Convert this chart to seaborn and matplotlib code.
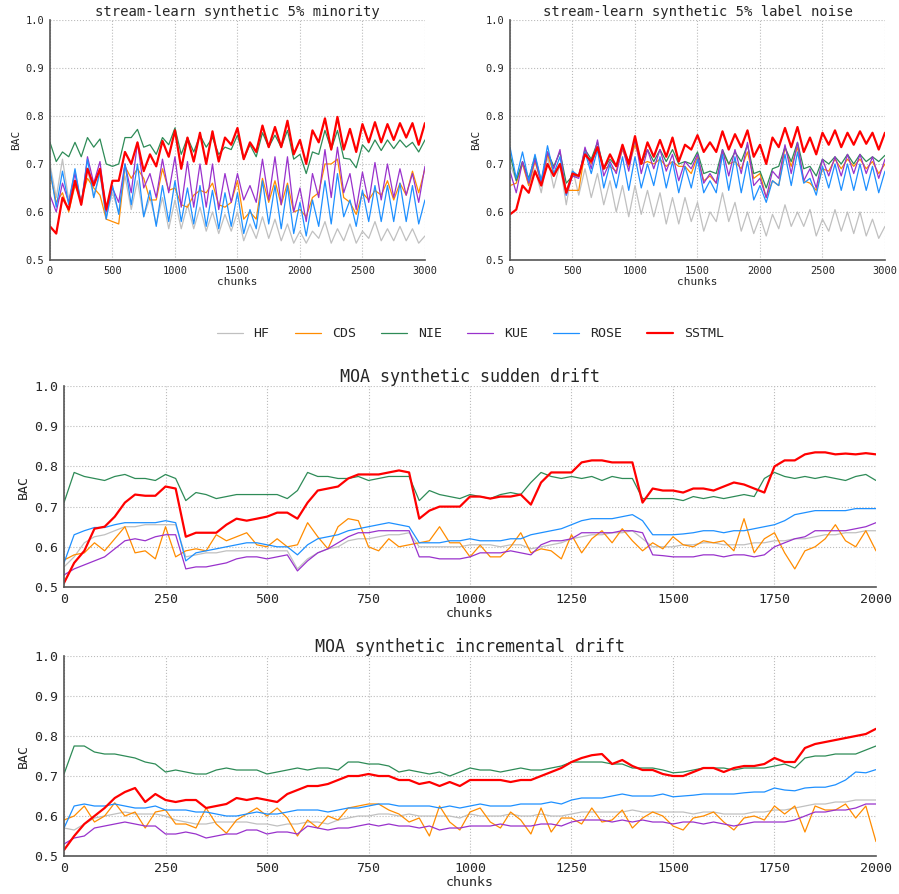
import numpy as np
import pandas as pd
import matplotlib
matplotlib.use('Agg')
import matplotlib.pyplot as plt
import seaborn as sns

methods = ['HF', 'CDS', 'NIE', 'KUE', 'ROSE', 'SSTML']
colors = {'HF': 'silver', 'CDS': 'darkorange', 'NIE': 'seagreen',
          'KUE': 'darkorchid', 'ROSE': 'dodgerblue', 'SSTML': 'red'}

# chunk positions for the samples
chunks_sl = np.arange(0, 3001, 50)
chunks_moa = np.arange(0, 2001, 25)

# stream-learn 5% minority
min_hf = [0.70, 0.63, 0.71, 0.625, 0.685, 0.62, 0.69, 0.63, 0.68, 0.59,
          0.64, 0.60, 0.675, 0.605, 0.665, 0.59, 0.63, 0.575, 0.63, 0.565,
          0.625, 0.565, 0.615, 0.565, 0.61, 0.56, 0.60, 0.555, 0.595, 0.56,
          0.60, 0.54, 0.575, 0.545, 0.59, 0.545, 0.585, 0.54, 0.575, 0.535,
          0.56, 0.535, 0.56, 0.545, 0.58, 0.535, 0.565, 0.54, 0.575, 0.535,
          0.56, 0.545, 0.58, 0.54, 0.565, 0.54, 0.57, 0.54, 0.565, 0.535,
          0.55]
min_cds = [0.68, 0.62, 0.64, 0.60, 0.655, 0.625, 0.67, 0.65, 0.635, 0.585,
           0.58, 0.575, 0.695, 0.67, 0.69, 0.67, 0.625, 0.625, 0.69, 0.645,
           0.65, 0.615, 0.61, 0.635, 0.645, 0.64, 0.66, 0.615, 0.61, 0.62,
           0.665, 0.585, 0.60, 0.585, 0.67, 0.62, 0.665, 0.615, 0.66, 0.60,
           0.605, 0.59, 0.63, 0.64, 0.70, 0.70, 0.71, 0.63, 0.62, 0.595,
           0.64, 0.625, 0.645, 0.635, 0.665, 0.625, 0.66, 0.635, 0.685, 0.64,
           0.69]
min_nie = [0.745, 0.705, 0.725, 0.715, 0.745, 0.715, 0.755, 0.735, 0.752, 0.70,
           0.695, 0.70, 0.755, 0.755, 0.772, 0.735, 0.74, 0.72, 0.755, 0.74,
           0.775, 0.72, 0.755, 0.725, 0.76, 0.735, 0.755, 0.72, 0.735, 0.73,
           0.76, 0.71, 0.74, 0.715, 0.765, 0.735, 0.76, 0.735, 0.77, 0.71,
           0.72, 0.68, 0.725, 0.72, 0.77, 0.73, 0.77, 0.712, 0.71, 0.692,
           0.74, 0.725, 0.75, 0.728, 0.75, 0.732, 0.75, 0.735, 0.745, 0.725,
           0.75]
min_kue = [0.635, 0.60, 0.66, 0.62, 0.68, 0.615, 0.715, 0.66, 0.705, 0.60,
           0.65, 0.62, 0.70, 0.64, 0.745, 0.65, 0.68, 0.63, 0.71, 0.64,
           0.715, 0.61, 0.705, 0.61, 0.70, 0.61, 0.70, 0.605, 0.68, 0.62,
           0.68, 0.625, 0.655, 0.62, 0.71, 0.625, 0.715, 0.615, 0.715, 0.60,
           0.65, 0.58, 0.68, 0.63, 0.73, 0.63, 0.735, 0.64, 0.68, 0.605,
           0.683, 0.62, 0.703, 0.625, 0.70, 0.63, 0.69, 0.635, 0.68, 0.62,
           0.695]
min_rose = [0.69, 0.61, 0.685, 0.615, 0.69, 0.615, 0.71, 0.63, 0.685, 0.585,
            0.655, 0.595, 0.70, 0.615, 0.70, 0.59, 0.645, 0.57, 0.655, 0.58,
            0.665, 0.58, 0.65, 0.575, 0.655, 0.57, 0.645, 0.565, 0.64, 0.57,
            0.64, 0.555, 0.605, 0.565, 0.665, 0.575, 0.655, 0.565, 0.655, 0.555,
            0.62, 0.55, 0.625, 0.57, 0.665, 0.575, 0.68, 0.59, 0.625, 0.57,
            0.645, 0.58, 0.655, 0.58, 0.655, 0.58, 0.66, 0.58, 0.655, 0.575,
            0.625]
min_sstml = [0.57, 0.555, 0.63, 0.605, 0.665, 0.615, 0.69, 0.655, 0.69, 0.605,
             0.665, 0.665, 0.725, 0.70, 0.745, 0.685, 0.72, 0.695, 0.748, 0.715,
             0.77, 0.69, 0.755, 0.705, 0.765, 0.70, 0.768, 0.705, 0.755, 0.74,
             0.775, 0.71, 0.745, 0.725, 0.78, 0.735, 0.777, 0.735, 0.79, 0.72,
             0.75, 0.70, 0.77, 0.745, 0.795, 0.73, 0.798, 0.73, 0.773, 0.725,
             0.783, 0.745, 0.787, 0.745, 0.783, 0.75, 0.785, 0.755, 0.785, 0.74,
             0.785]

# stream-learn 5% label noise
noise_hf = [0.70, 0.665, 0.705, 0.655, 0.69, 0.64, 0.715, 0.65, 0.70, 0.615,
            0.69, 0.635, 0.69, 0.63, 0.68, 0.615, 0.665, 0.60, 0.655, 0.59,
            0.655, 0.595, 0.645, 0.59, 0.64, 0.575, 0.63, 0.575, 0.63, 0.58,
            0.62, 0.56, 0.60, 0.58, 0.64, 0.58, 0.62, 0.56, 0.60, 0.555,
            0.59, 0.55, 0.595, 0.565, 0.615, 0.57, 0.60, 0.57, 0.605, 0.55,
            0.585, 0.56, 0.605, 0.56, 0.60, 0.555, 0.60, 0.55, 0.585, 0.545,
            0.57]
noise_cds = [0.655, 0.66, 0.70, 0.655, 0.705, 0.66, 0.72, 0.68, 0.70, 0.645,
             0.645, 0.645, 0.725, 0.70, 0.735, 0.69, 0.695, 0.685, 0.73, 0.695,
             0.74, 0.70, 0.705, 0.70, 0.71, 0.695, 0.705, 0.695, 0.695, 0.68,
             0.715, 0.665, 0.675, 0.66, 0.725, 0.70, 0.705, 0.69, 0.725, 0.67,
             0.68, 0.63, 0.665, 0.655, 0.735, 0.695, 0.735, 0.665, 0.66, 0.645,
             0.69, 0.685, 0.71, 0.69, 0.71, 0.695, 0.71, 0.69, 0.705, 0.68,
             0.70]
noise_nie = [0.72, 0.665, 0.705, 0.67, 0.715, 0.665, 0.725, 0.695, 0.725, 0.66,
             0.675, 0.675, 0.73, 0.71, 0.745, 0.69, 0.71, 0.695, 0.735, 0.705,
             0.75, 0.70, 0.73, 0.705, 0.73, 0.705, 0.73, 0.70, 0.705, 0.70,
             0.725, 0.68, 0.685, 0.68, 0.73, 0.70, 0.725, 0.705, 0.74, 0.68,
             0.685, 0.65, 0.69, 0.695, 0.735, 0.705, 0.745, 0.69, 0.695, 0.675,
             0.71, 0.70, 0.715, 0.70, 0.72, 0.70, 0.72, 0.705, 0.715, 0.705,
             0.718]
noise_kue = [0.685, 0.64, 0.705, 0.66, 0.71, 0.66, 0.725, 0.69, 0.73, 0.635,
             0.675, 0.67, 0.735, 0.69, 0.75, 0.675, 0.705, 0.68, 0.735, 0.685,
             0.755, 0.68, 0.73, 0.69, 0.73, 0.685, 0.72, 0.665, 0.705, 0.69,
             0.72, 0.66, 0.68, 0.66, 0.73, 0.675, 0.73, 0.68, 0.745, 0.655,
             0.67, 0.63, 0.685, 0.67, 0.74, 0.68, 0.745, 0.665, 0.69, 0.65,
             0.71, 0.675, 0.715, 0.675, 0.72, 0.68, 0.72, 0.68, 0.715, 0.67,
             0.71]
noise_rose = [0.735, 0.67, 0.725, 0.665, 0.72, 0.665, 0.738, 0.68, 0.715, 0.635,
              0.685, 0.675, 0.725, 0.68, 0.73, 0.65, 0.70, 0.65, 0.715, 0.645,
              0.715, 0.65, 0.70, 0.655, 0.715, 0.65, 0.705, 0.64, 0.695, 0.65,
              0.71, 0.64, 0.665, 0.64, 0.72, 0.645, 0.715, 0.64, 0.705, 0.625,
              0.655, 0.62, 0.665, 0.655, 0.72, 0.655, 0.725, 0.66, 0.67, 0.635,
              0.695, 0.65, 0.70, 0.645, 0.70, 0.645, 0.70, 0.645, 0.695, 0.64,
              0.685]
noise_sstml = [0.595, 0.605, 0.655, 0.64, 0.685, 0.655, 0.70, 0.675, 0.70, 0.64,
               0.68, 0.675, 0.72, 0.705, 0.735, 0.69, 0.72, 0.695, 0.74, 0.70,
               0.758, 0.70, 0.745, 0.715, 0.75, 0.715, 0.755, 0.705, 0.74, 0.73,
               0.76, 0.725, 0.745, 0.725, 0.768, 0.73, 0.762, 0.735, 0.77, 0.715,
               0.74, 0.70, 0.755, 0.735, 0.775, 0.735, 0.777, 0.725, 0.755, 0.72,
               0.765, 0.74, 0.77, 0.735, 0.765, 0.74, 0.768, 0.742, 0.765, 0.73,
               0.765]

# MOA sudden drift
sud_hf = [0.55, 0.575, 0.61, 0.625, 0.63, 0.64, 0.65, 0.65, 0.655, 0.655,
          0.655, 0.655, 0.575, 0.58, 0.585, 0.585, 0.59, 0.59, 0.59, 0.59,
          0.59, 0.59, 0.59, 0.545, 0.57, 0.585, 0.595, 0.60, 0.615, 0.62,
          0.62, 0.625, 0.63, 0.63, 0.635, 0.60, 0.60, 0.60, 0.60, 0.60,
          0.605, 0.605, 0.605, 0.60, 0.605, 0.605, 0.595, 0.60, 0.605, 0.61,
          0.62, 0.625, 0.63, 0.63, 0.635, 0.635, 0.64, 0.62, 0.60, 0.60,
          0.60, 0.605, 0.605, 0.61, 0.61, 0.605, 0.605, 0.605, 0.61, 0.61,
          0.615, 0.615, 0.62, 0.62, 0.625, 0.63, 0.63, 0.635, 0.635, 0.64,
          0.64]
sud_cds = [0.567, 0.58, 0.585, 0.61, 0.59, 0.62, 0.65, 0.585, 0.59, 0.57,
           0.65, 0.575, 0.59, 0.595, 0.59, 0.63, 0.615, 0.625, 0.635, 0.605,
           0.60, 0.62, 0.60, 0.605, 0.66, 0.625, 0.595, 0.65, 0.67, 0.665,
           0.60, 0.59, 0.62, 0.60, 0.605, 0.61, 0.615, 0.65, 0.61, 0.61,
           0.575, 0.604, 0.575, 0.575, 0.60, 0.635, 0.585, 0.595, 0.59, 0.57,
           0.63, 0.585, 0.62, 0.64, 0.61, 0.645, 0.615, 0.59, 0.61, 0.595,
           0.625, 0.605, 0.60, 0.615, 0.61, 0.615, 0.59, 0.67, 0.585, 0.62,
           0.635, 0.585, 0.545, 0.59, 0.60, 0.62, 0.655, 0.615, 0.60, 0.64,
           0.59]
sud_nie = [0.71, 0.785, 0.775, 0.77, 0.765, 0.775, 0.78, 0.77, 0.77, 0.765,
           0.78, 0.77, 0.715, 0.735, 0.73, 0.72, 0.725, 0.73, 0.73, 0.73,
           0.73, 0.73, 0.72, 0.74, 0.785, 0.775, 0.775, 0.77, 0.77, 0.775,
           0.765, 0.77, 0.775, 0.775, 0.775, 0.715, 0.74, 0.73, 0.725, 0.72,
           0.73, 0.725, 0.72, 0.73, 0.735, 0.73, 0.76, 0.785, 0.775, 0.77,
           0.775, 0.77, 0.775, 0.765, 0.775, 0.77, 0.77, 0.72, 0.72, 0.72,
           0.72, 0.715, 0.725, 0.72, 0.725, 0.72, 0.725, 0.73, 0.725, 0.77,
           0.785, 0.775, 0.77, 0.775, 0.77, 0.775, 0.77, 0.765, 0.775, 0.78,
           0.765]
sud_kue = [0.53, 0.545, 0.555, 0.565, 0.575, 0.595, 0.615, 0.62, 0.615, 0.625,
           0.63, 0.63, 0.545, 0.55, 0.55, 0.555, 0.56, 0.57, 0.575, 0.575,
           0.57, 0.575, 0.58, 0.54, 0.565, 0.585, 0.595, 0.61, 0.625, 0.635,
           0.635, 0.64, 0.64, 0.64, 0.64, 0.575, 0.575, 0.57, 0.57, 0.57,
           0.575, 0.585, 0.585, 0.585, 0.59, 0.585, 0.58, 0.605, 0.615, 0.615,
           0.62, 0.635, 0.635, 0.635, 0.635, 0.64, 0.64, 0.635, 0.58, 0.578,
           0.575, 0.575, 0.575, 0.58, 0.58, 0.575, 0.58, 0.58, 0.575, 0.58,
           0.60, 0.61, 0.62, 0.625, 0.64, 0.64, 0.64, 0.64, 0.645, 0.65,
           0.66]
sud_rose = [0.56, 0.63, 0.64, 0.648, 0.648, 0.655, 0.66, 0.66, 0.66, 0.66,
            0.665, 0.66, 0.565, 0.585, 0.59, 0.595, 0.60, 0.605, 0.61, 0.61,
            0.605, 0.60, 0.60, 0.58, 0.605, 0.62, 0.625, 0.63, 0.64, 0.645,
            0.65, 0.655, 0.66, 0.655, 0.65, 0.61, 0.61, 0.61, 0.615, 0.615,
            0.62, 0.615, 0.615, 0.615, 0.62, 0.62, 0.63, 0.635, 0.64, 0.645,
            0.655, 0.665, 0.67, 0.67, 0.67, 0.675, 0.68, 0.665, 0.63, 0.63,
            0.63, 0.632, 0.635, 0.64, 0.64, 0.635, 0.64, 0.64, 0.645, 0.65,
            0.655, 0.665, 0.68, 0.685, 0.69, 0.69, 0.69, 0.69, 0.695, 0.695,
            0.695]
sud_sstml = [0.51, 0.56, 0.59, 0.645, 0.65, 0.675, 0.71, 0.73, 0.727, 0.727,
             0.75, 0.745, 0.625, 0.635, 0.635, 0.635, 0.655, 0.67, 0.665, 0.67,
             0.675, 0.685, 0.685, 0.67, 0.71, 0.74, 0.745, 0.75, 0.77, 0.78,
             0.78, 0.78, 0.785, 0.79, 0.785, 0.67, 0.69, 0.70, 0.70, 0.70,
             0.725, 0.725, 0.72, 0.725, 0.725, 0.73, 0.705, 0.76, 0.785, 0.785,
             0.785, 0.81, 0.815, 0.815, 0.81, 0.81, 0.81, 0.71, 0.745, 0.74,
             0.74, 0.735, 0.745, 0.745, 0.74, 0.75, 0.76, 0.755, 0.745, 0.735,
             0.80, 0.815, 0.815, 0.83, 0.835, 0.835, 0.83, 0.832, 0.83, 0.833,
             0.83]

# MOA incremental drift
inc_hf = [0.57, 0.565, 0.58, 0.595, 0.60, 0.605, 0.61, 0.605, 0.605, 0.605,
          0.60, 0.59, 0.585, 0.58, 0.58, 0.585, 0.585, 0.585, 0.585, 0.58,
          0.58, 0.575, 0.58, 0.58, 0.585, 0.585, 0.58, 0.59, 0.595, 0.60,
          0.60, 0.605, 0.605, 0.60, 0.605, 0.60, 0.60, 0.60, 0.60, 0.595,
          0.605, 0.60, 0.60, 0.60, 0.605, 0.60, 0.60, 0.605, 0.60, 0.60,
          0.605, 0.61, 0.61, 0.61, 0.61, 0.61, 0.615, 0.61, 0.61, 0.61,
          0.61, 0.61, 0.605, 0.61, 0.61, 0.605, 0.605, 0.605, 0.61, 0.61,
          0.615, 0.615, 0.62, 0.625, 0.63, 0.63, 0.635, 0.635, 0.64, 0.64,
          0.64]
inc_cds = [0.59, 0.60, 0.625, 0.585, 0.60, 0.633, 0.60, 0.61, 0.57, 0.61,
           0.615, 0.58, 0.58, 0.57, 0.62, 0.58, 0.557, 0.59, 0.605, 0.62,
           0.60, 0.62, 0.595, 0.55, 0.59, 0.57, 0.60, 0.59, 0.62, 0.625,
           0.63, 0.63, 0.615, 0.605, 0.585, 0.595, 0.55, 0.625, 0.585, 0.565,
           0.61, 0.62, 0.585, 0.57, 0.61, 0.59, 0.555, 0.62, 0.56, 0.595,
           0.595, 0.58, 0.62, 0.585, 0.59, 0.615, 0.57, 0.595, 0.61, 0.60,
           0.575, 0.565, 0.595, 0.60, 0.61, 0.585, 0.565, 0.595, 0.60, 0.59,
           0.625, 0.605, 0.625, 0.56, 0.625, 0.615, 0.615, 0.63, 0.595, 0.625,
           0.536]
inc_nie = [0.705, 0.775, 0.775, 0.76, 0.755, 0.755, 0.75, 0.745, 0.735, 0.73,
           0.71, 0.715, 0.71, 0.705, 0.705, 0.715, 0.72, 0.715, 0.715, 0.715,
           0.705, 0.71, 0.715, 0.72, 0.715, 0.72, 0.72, 0.715, 0.735, 0.735,
           0.73, 0.73, 0.725, 0.71, 0.715, 0.71, 0.705, 0.71, 0.70, 0.71,
           0.72, 0.715, 0.715, 0.71, 0.715, 0.72, 0.715, 0.715, 0.72, 0.725,
           0.735, 0.735, 0.735, 0.735, 0.73, 0.73, 0.72, 0.72, 0.72, 0.715,
           0.708, 0.71, 0.715, 0.72, 0.72, 0.72, 0.715, 0.72, 0.72, 0.72,
           0.725, 0.73, 0.72, 0.745, 0.75, 0.75, 0.755, 0.755, 0.755, 0.765,
           0.775]
inc_kue = [0.53, 0.545, 0.55, 0.57, 0.575, 0.58, 0.585, 0.58, 0.575, 0.575,
           0.555, 0.555, 0.56, 0.555, 0.545, 0.55, 0.555, 0.555, 0.565, 0.565,
           0.555, 0.56, 0.56, 0.555, 0.575, 0.57, 0.565, 0.57, 0.57, 0.575,
           0.58, 0.575, 0.58, 0.575, 0.575, 0.57, 0.575, 0.565, 0.57, 0.57,
           0.575, 0.575, 0.575, 0.58, 0.575, 0.575, 0.575, 0.58, 0.58, 0.575,
           0.585, 0.59, 0.59, 0.59, 0.585, 0.59, 0.585, 0.59, 0.585, 0.585,
           0.58, 0.585, 0.585, 0.58, 0.585, 0.58, 0.575, 0.58, 0.585, 0.585,
           0.585, 0.585, 0.59, 0.60, 0.61, 0.61, 0.615, 0.615, 0.62, 0.63,
           0.63]
inc_rose = [0.57, 0.625, 0.63, 0.625, 0.625, 0.63, 0.625, 0.62, 0.62, 0.625,
            0.615, 0.615, 0.615, 0.61, 0.61, 0.605, 0.60, 0.60, 0.605, 0.61,
            0.605, 0.605, 0.61, 0.615, 0.615, 0.615, 0.61, 0.615, 0.62, 0.62,
            0.625, 0.63, 0.63, 0.625, 0.625, 0.625, 0.625, 0.62, 0.625, 0.62,
            0.625, 0.63, 0.625, 0.625, 0.625, 0.63, 0.63, 0.63, 0.635, 0.63,
            0.64, 0.645, 0.645, 0.645, 0.65, 0.655, 0.65, 0.65, 0.65, 0.655,
            0.648, 0.65, 0.652, 0.655, 0.655, 0.655, 0.655, 0.658, 0.66, 0.66,
            0.67, 0.665, 0.663, 0.67, 0.672, 0.672, 0.678, 0.69, 0.71, 0.708,
            0.716]
inc_sstml = [0.515, 0.55, 0.58, 0.60, 0.62, 0.645, 0.66, 0.67, 0.635, 0.655,
             0.64, 0.635, 0.64, 0.64, 0.62, 0.625, 0.63, 0.645, 0.64, 0.645,
             0.64, 0.635, 0.655, 0.665, 0.675, 0.675, 0.68, 0.69, 0.70, 0.70,
             0.705, 0.70, 0.70, 0.69, 0.69, 0.68, 0.685, 0.675, 0.685, 0.675,
             0.69, 0.69, 0.69, 0.69, 0.685, 0.69, 0.69, 0.70, 0.71, 0.72,
             0.735, 0.745, 0.752, 0.755, 0.73, 0.74, 0.725, 0.715, 0.715, 0.705,
             0.70, 0.70, 0.71, 0.72, 0.72, 0.71, 0.72, 0.725, 0.725, 0.73,
             0.745, 0.735, 0.735, 0.77, 0.78, 0.785, 0.79, 0.795, 0.80, 0.805,
             0.818]

panels = [
    ('stream-learn synthetic 5% minority', chunks_sl,
     [min_hf, min_cds, min_nie, min_kue, min_rose, min_sstml]),
    ('stream-learn synthetic 5% label noise', chunks_sl,
     [noise_hf, noise_cds, noise_nie, noise_kue, noise_rose, noise_sstml]),
    ('MOA synthetic sudden drift', chunks_moa,
     [sud_hf, sud_cds, sud_nie, sud_kue, sud_rose, sud_sstml]),
    ('MOA synthetic incremental drift', chunks_moa,
     [inc_hf, inc_cds, inc_nie, inc_kue, inc_rose, inc_sstml]),
]

sns.set_style('white')
plt.rcParams['font.family'] = ['DejaVu Sans Mono', 'DejaVu Sans']

fig = plt.figure(figsize=(8.99, 8.94), dpi=100)
boxes = [[0.0556, 0.7092, 0.4171, 0.2685],
         [0.5673, 0.7092, 0.4171, 0.2685],
         [0.0712, 0.3434, 0.9032, 0.2248],
         [0.0712, 0.0425, 0.9032, 0.2237]]

for i, (title, chunks, series) in enumerate(panels):
    ax = fig.add_axes(boxes[i])
    small = i < 2
    for name, vals in zip(methods, series):
        df = pd.DataFrame({'chunks': chunks, 'BAC': vals})
        sns.lineplot(data=df, x='chunks', y='BAC', ax=ax, color=colors[name],
                     lw=1.6 if name == 'SSTML' else 0.9, label=name, legend=False)
    ax.set_ylim(0.5, 1.0)
    ax.set_yticks(np.arange(0.5, 1.01, 0.1))
    ax.set_yticklabels(['%.1f' % v for v in np.arange(0.5, 1.01, 0.1)])
    if small:
        ax.set_xlim(0, 3000)
        ax.set_xticks(range(0, 3001, 500))
        fs_t, fs_l, fs_title = 7.5, 8, 10
    else:
        ax.set_xlim(0, 2000)
        ax.set_xticks(range(0, 2001, 250))
        fs_t, fs_l, fs_title = 9.5, 9.5, 12
    ax.tick_params(labelsize=fs_t, length=2, pad=2)
    ax.set_xlabel('chunks', fontsize=fs_l, labelpad=1)
    ax.set_ylabel('BAC', fontsize=fs_l, labelpad=3)
    ax.set_title(title, fontsize=fs_title, pad=3)
    ax.grid(True, ls=':', color='#bbbbbb', lw=0.8)
    sns.despine(ax=ax)
    for s in ['left', 'bottom']:
        ax.spines[s].set_color('#555555')
        ax.spines[s].set_linewidth(1.2)
    if i == 0:
        handles, labels = ax.get_legend_handles_labels()

fig.legend(handles, labels, loc='center', bbox_to_anchor=(0.523, 0.6264),
           ncol=6, frameon=False, fontsize=9.5, columnspacing=1.9,
           handlelength=2.0, handletextpad=0.8)

fig.savefig('out.png', dpi=100)
